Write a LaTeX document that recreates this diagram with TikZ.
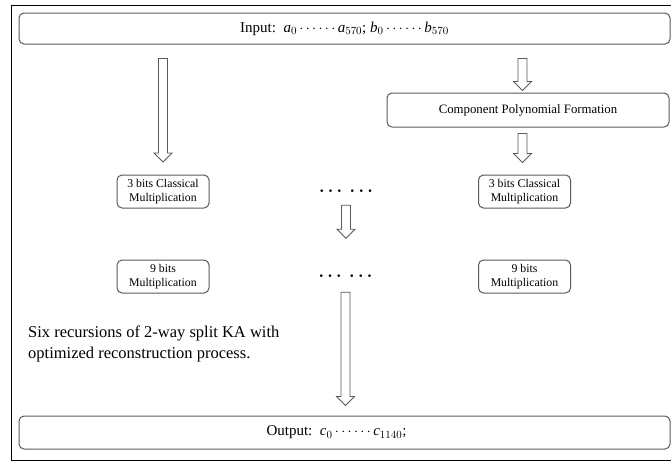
\documentclass[tikz,border=0pt]{standalone}
\usepackage{fontspec}
\setmainfont{Liberation Serif}
\usetikzlibrary{calc}
\tikzset{
  rbox/.style={draw=black!65, line width=1pt, rounded corners=5pt, inner sep=0pt, align=center},
  smallbox/.style={rbox, minimum width=92pt, minimum height=33pt, font=\fontsize{11.8}{13.5}\selectfont},
  arrowline/.style={draw=black!65, line width=0.8pt, fill=white, line join=miter},
  dotsnode/.style={inner sep=0pt, font=\fontsize{17}{17}\selectfont\boldmath}
}
\newcommand\blockarrow[2]{\draw[arrowline] let \p1=#1, \p2=#2 in
  (\x1-4.5pt,\y1) -- (\x1+4.5pt,\y1) -- (\x1+4.5pt,\y2+9pt) -- (\x1+9pt,\y2+9pt)
  -- (\x1,\y2) -- (\x1-9pt,\y2+9pt) -- (\x1-4.5pt,\y2+9pt) -- cycle;}
\begin{document}
\begin{tikzpicture}[x=1pt,y=-1pt]
\useasboundingbox (0,0) rectangle (671,461);
% outer frame
\draw[line width=1pt] (690,5) -- (11,5) -- (11,460) -- (690,460);
% nodes
\node[rbox, minimum width=651pt, minimum height=31pt, font=\fontsize{15}{15}\selectfont] (inp) at (344.5,28.5)
  {Input:\ \ $\mathit{a}_{0}\cdots\cdots\mathit{a}_{570}$; $\mathit{b}_{0}\cdots\cdots\mathit{b}_{570}$};
\node[rbox, minimum width=282pt, minimum height=34pt, font=\fontsize{12.8}{13.5}\selectfont] (cpf) at (528,110)
  {Component Polynomial Formation};
\node[smallbox] (l3) at (163,191.5) {3 bits Classical\\Multiplication};
\node[smallbox] (l9) at (163,276.5) {9 bits\\Multiplication};
\node[smallbox] (r3) at (524.5,191.5) {3 bits Classical\\Multiplication};
\node[smallbox] (r9) at (524.5,276.5) {9 bits\\Multiplication};
\node[dotsnode] (d1) at (346,191) {$\cdots\ \cdots$};
\node[dotsnode] (d2) at (345.5,276) {$\cdots\ \cdots$};
\node[anchor=north west, align=left, inner sep=0pt, font=\fontsize{16.5}{21}\selectfont] (txt) at (28,326)
  {Six recursions of 2-way split KA with\\optimized reconstruction process.};
\node[rbox, minimum width=651pt, minimum height=33pt, font=\fontsize{15}{15}\selectfont] (outp) at (344.5,432.5)
  {Output:\ \ $\mathit{c}_{0}\cdots\cdots\mathit{c}_{1140}$;\hspace{16pt}};
% arrow anchors
\coordinate (a1s) at ($(inp.south -| l3.north)+(0,14)$);
\coordinate (a1e) at ($(l3.north)+(0,-12.5)$);
\coordinate (a2s) at ($(inp.south)+(178,14)$);
\coordinate (a2e) at ($(cpf.north -| a2s)+(0,-2)$);
\coordinate (a3s) at ($(cpf.south -| a2s)+(0,6)$);
\coordinate (a3e) at ($(r3.north -| a2s)+(0,-12)$);
\coordinate (a4s) at ($(d1.south)+(0,10)$);
\coordinate (a4e) at ($(d1.south)+(0,43)$);
\coordinate (a5s) at ($(d2.south)+(0,12)$);
\coordinate (a5e) at ($(outp.north -| a5s)+(0,-10)$);
\blockarrow{(a1s)}{(a1e)}
\blockarrow{(a2s)}{(a2e)}
\blockarrow{(a3s)}{(a3e)}
\blockarrow{(a4s)}{(a4e)}
\blockarrow{(a5s)}{(a5e)}
\end{tikzpicture}
\end{document}
